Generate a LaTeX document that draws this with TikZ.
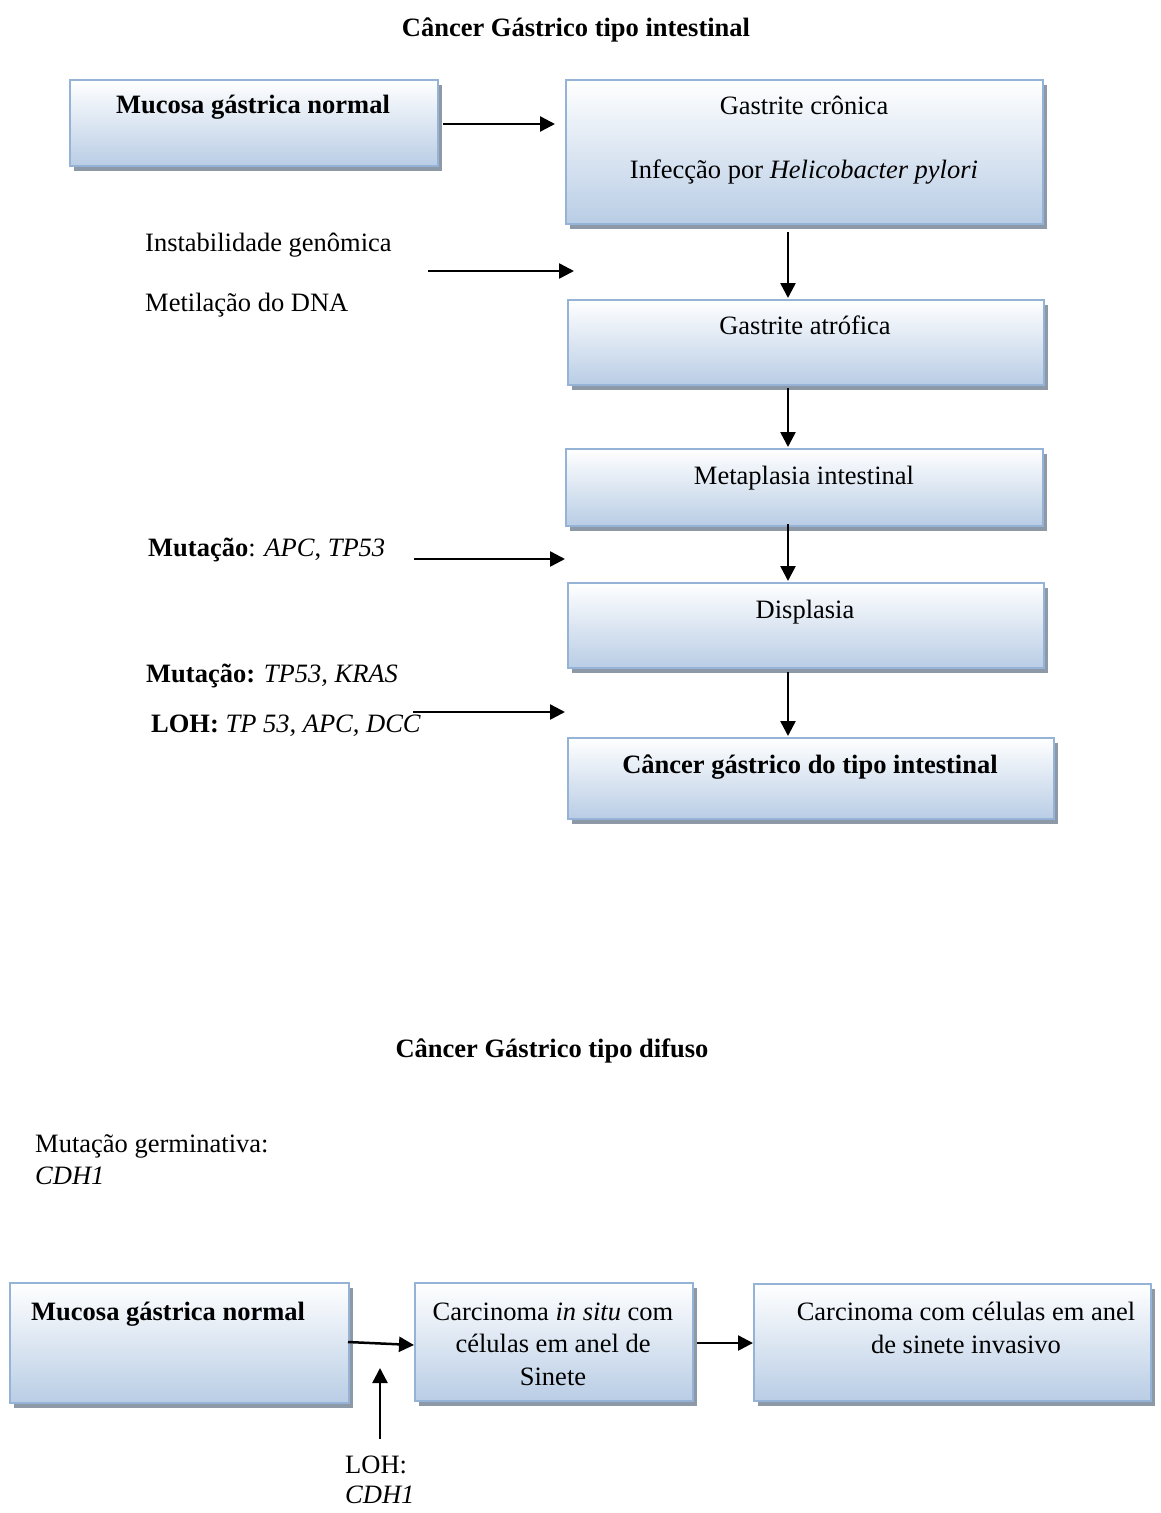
\documentclass[tikz,border=0pt]{standalone}
\usepackage{fontspec}
\setmainfont{Liberation Serif}
\usetikzlibrary{arrows.meta,shadows}
\definecolor{boxblue}{HTML}{B9CDE5}
\definecolor{boxline}{HTML}{95B3D7}
\definecolor{shadowgray}{HTML}{8E99A8}
\begin{document}
\begin{tikzpicture}[x=1pt,y=-1pt,
  every node/.style={font=\fontsize{26.5}{32}\selectfont},
  box/.style={draw=boxline, line width=1.6pt, top color=white, bottom color=boxblue,
    drop shadow={shadow xshift=4.5pt, shadow yshift=-5pt, fill=shadowgray, opacity=1},
    inner sep=0pt, anchor=north west},
  lbl/.style={anchor=base west, inner sep=0pt},
  txt/.style={anchor=base, inner sep=0pt},
  arr/.style={line width=2.5pt, -{Triangle[length=15pt,width=15pt]}}]
\useasboundingbox (0,0) rectangle (1161,1513);

% ---------- intestinal type ----------
\node[txt] (t1) at (576,36) {\textbf{Câncer Gástrico tipo intestinal}};

\node[box, minimum width=368pt, minimum height=86pt] (A) at (69,79) {};
\node[txt] (At) at (253,113) {\textbf{Mucosa gástrica normal}};

\node[box, minimum width=477pt, minimum height=144pt] (B) at (565,79) {};
\node[txt] (Bt1) at (804,114) {Gastrite crônica};
\node[txt] (Bt2) at (804,178) {Infecção por \textit{Helicobacter pylori}};

\node[box, minimum width=476pt, minimum height=85pt] (C) at (567,299) {};
\node[txt] (Ct) at (805,334) {Gastrite atrófica};

\node[box, minimum width=477pt, minimum height=77pt] (D) at (565,448) {};
\node[txt] (Dt) at (804,484) {Metaplasia intestinal};

\node[box, minimum width=476pt, minimum height=85pt] (E) at (567,582) {};
\node[txt] (Et) at (805,618) {Displasia};

\node[box, minimum width=486pt, minimum height=81pt] (F) at (567,737) {};
\node[txt] (Ft) at (810,773) {\textbf{Câncer gástrico do tipo intestinal}};

\node[lbl] (L1) at (145,251) {Instabilidade genômica};
\node[lbl] (L2) at (145,311) {Metilação do DNA};
\node[lbl] (L3) at (148,556) {\textbf{Mutação}: \textit{APC}, \textit{TP53}};
\node[lbl] (L4) at (146,682) {\textbf{Mutação:} \textit{TP53, KRAS}};
\node[lbl] (L5) at (151,732) {\textbf{LOH:} \textit{TP 53, APC, DCC}};

\coordinate (a0) at (443,124);
\draw[arr, shorten >=10pt] (a0) -- (a0 -| B.west);

\coordinate (v1) at (788,232);
\coordinate (v2) at (788,388);
\coordinate (v3) at (788,524);
\coordinate (v4) at (788,672);
\draw[arr, shorten >=1pt] (v1) -- (v1 |- C.north);
\draw[arr, shorten >=1pt] (v2) -- (v2 |- D.north);
\draw[arr, shorten >=1pt] (v3) -- (v3 |- E.north);
\draw[arr, shorten >=1pt] (v4) -- (v4 |- F.north);

\coordinate (s1a) at (428,271); \coordinate (s1b) at (574,271);
\coordinate (s2a) at (414,559); \coordinate (s2b) at (565,559);
\coordinate (s3a) at (413,712); \coordinate (s3b) at (565,712);
\draw[arr] (s1a) -- (s1b);
\draw[arr] (s2a) -- (s2b);
\draw[arr] (s3a) -- (s3b);

% ---------- diffuse type ----------
\node[txt] (t2) at (552,1057) {\textbf{Câncer Gástrico tipo difuso}};

\node[lbl] (M1) at (35,1152) {Mutação germinativa:};
\node[lbl] (M2) at (35,1184) {\textit{CDH1}};

\node[box, minimum width=339pt, minimum height=120pt] (G) at (9,1282) {};
\node[lbl] (Gt) at (31,1320) {\textbf{Mucosa gástrica normal}};

\node[box, minimum width=278pt, minimum height=118pt] (H) at (414,1282) {};
\node[txt] (Ht1) at (553,1320) {Carcinoma \textit{in situ} com};
\node[txt] (Ht2) at (553,1352) {células em anel de};
\node[txt] (Ht3) at (553,1385) {Sinete};

\node[box, minimum width=397pt, minimum height=117pt] (I) at (753,1283) {};
\node[txt] (It1) at (966,1320) {Carcinoma com células em anel};
\node[txt] (It2) at (966,1353) {de sinete invasivo};

\node[lbl] (N1) at (345,1473) {LOH:};
\node[lbl] (N2) at (345,1503) {\textit{CDH1}};

\coordinate (g0) at (348,1342);
\draw[arr] (g0) -- (H.west |- 0,1345);
\coordinate (h1) at (697,1343);
\draw[arr] (h1) -- (h1 -| I.west);
\coordinate (u0) at (380,1439);
\coordinate (u1) at (380,1368);
\draw[arr] (u0) -- (u1);
\end{tikzpicture}
\end{document}
